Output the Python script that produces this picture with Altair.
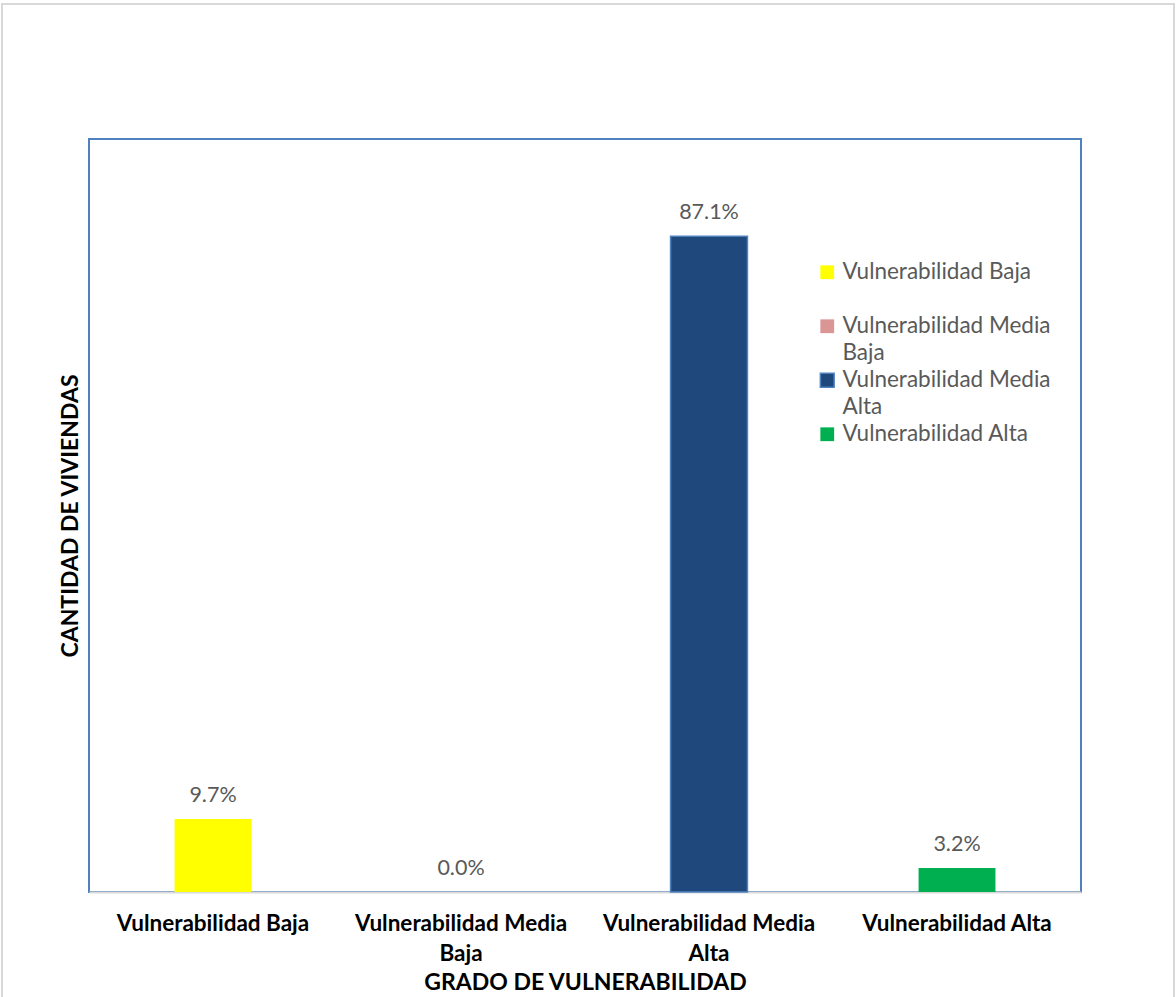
import altair as alt
import pandas as pd

categories = ["Vulnerabilidad Baja", "Vulnerabilidad Media Baja", "Vulnerabilidad Media Alta", "Vulnerabilidad Alta"]
percentages = [9.7, 0.0, 87.1, 3.2]
fill_colors = ["#ffff00", "#d99694", "#1f497d", "#00b050"]
stroke_colors = ["transparent", "transparent", "#4f81bd", "transparent"]

df = pd.DataFrame({"cat": categories, "pct": percentages})

FONT = "Lato"
wrap_axis = ("length(datum.label) > 20 ? [slice(datum.label, 0, lastindexof(datum.label, ' ')), "
             "slice(datum.label, lastindexof(datum.label, ' ') + 1)] : datum.label")
wrap_legend = ("length(datum.label) > 20 ? [slice(datum.label, 0, lastindexof(datum.label, ' ')), "
               "slice(datum.label, lastindexof(datum.label, ' ') + 1)] : [datum.label, ' ']")

x_enc = alt.X(
    "cat:N",
    sort=categories,
    scale=alt.Scale(paddingInner=0.69, paddingOuter=0.345),
    axis=alt.Axis(
        title="GRADO DE VULNERABILIDAD",
        titleFontSize=23, titleFontWeight="bold", titleColor="#000000", titleFont=FONT,
        titlePadding=7,
        labelFont=FONT, labelFontSize=22.5, labelFontWeight="bold", labelColor="#000000",
        labelAngle=0, labelPadding=20, labelLineHeight=30, labelExpr=wrap_axis,
        ticks=False, domainColor="#d9d9d9", domainWidth=2, labelLimit=400,
    ),
)
y_enc = alt.Y(
    "pct:Q",
    scale=alt.Scale(domain=[0, 100]),
    axis=alt.Axis(
        title="CANTIDAD DE VIVIENDAS", labels=False, ticks=False, domain=False, grid=False,
        titleFontSize=23, titleFontWeight="bold", titleColor="#000000", titleFont=FONT,
        titlePadding=7,
    ),
)

bars = alt.Chart(df).mark_bar(strokeWidth=1.5).encode(
    x=x_enc,
    y=y_enc,
    color=alt.Color(
        "cat:N", sort=categories,
        scale=alt.Scale(domain=categories, range=fill_colors),
        legend=alt.Legend(
            title=None, orient="none", legendX=727, legendY=122,
            symbolType="square", symbolSize=190, symbolStrokeWidth=1.5,
            labelFont=FONT, labelFontSize=22.5, labelColor="#595959",
            labelExpr=wrap_legend, labelLimit=400, rowPadding=4, labelOffset=4,
        ),
    ),
    stroke=alt.Stroke(
        "cat:N", sort=categories,
        scale=alt.Scale(domain=categories, range=stroke_colors),
        legend=alt.Legend(title=None),
    ),
)

labels = alt.Chart(df).transform_calculate(
    lab="format(datum.pct, '.1f') + '%'"
).mark_text(dy=-23, fontSize=21.5, font=FONT, color="#595959").encode(
    x=alt.X("cat:N", sort=categories),
    y="pct:Q",
    text="lab:N",
)

frame = alt.Chart(pd.DataFrame({"a": [0]})).mark_rect(
    fill="transparent", stroke="#d9d9d9", strokeWidth=2
).encode(
    x=alt.value(-87), x2=alt.value(1085), y=alt.value(-135), y2=alt.value(900)
)

chart = alt.layer(frame, bars, labels).properties(
    width=992, height=753,
    autosize=alt.AutoSizeParams(type="none"),
    padding={"left": 89, "top": 139, "right": 95, "bottom": 105},
).configure(
    background="white",
    view=alt.ViewConfig(stroke="#4f81bd", strokeWidth=2),
    style={"guide-label": {"lineHeight": 27}},
)

chart.save("out.html", embed_options={"renderer": "svg", "actions": False})
